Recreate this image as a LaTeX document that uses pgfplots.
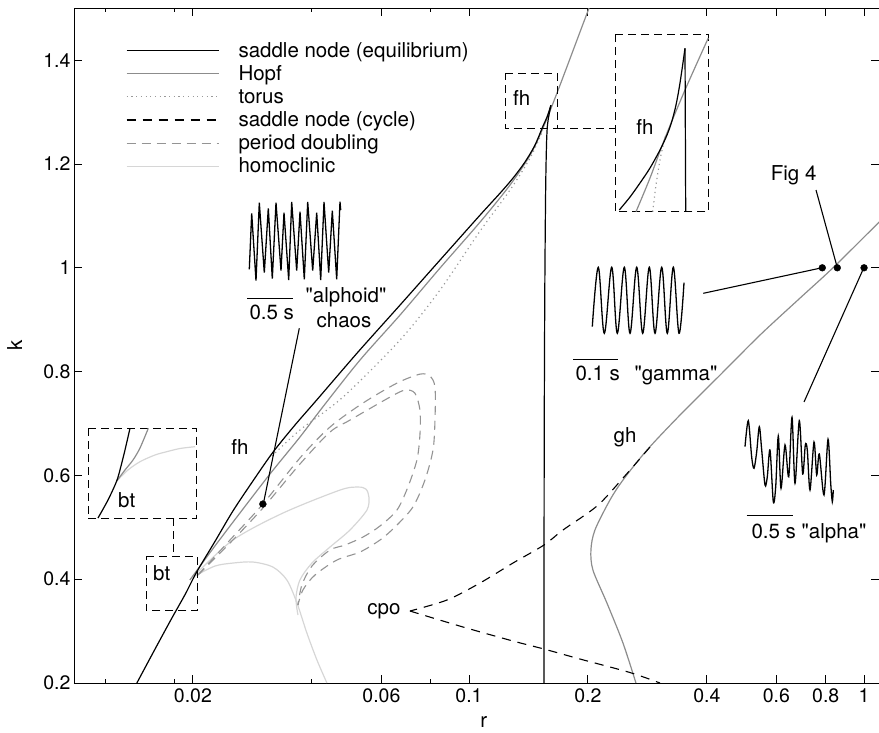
\documentclass[border=0pt]{standalone}
\usepackage{fontspec}
\setmainfont{TeX Gyre Heros}[Ligatures=TeXOff]
\usepackage{pgfplots}
\pgfplotsset{compat=1.18}
\newcommand\myfont{\fontsize{20.5bp}{24bp}\selectfont}
\newcommand\tickfont{\fontsize{19.5bp}{23bp}\selectfont}
\definecolor{hopf}{gray}{0.55}
\definecolor{pdc}{gray}{0.58}
\definecolor{tor}{gray}{0.6}
\definecolor{hom}{gray}{0.84}
\tikzset{
 sne/.style={black, line width=1.2bp},
 hpf/.style={hopf, line width=1.2bp},
 trs/.style={tor, line width=1.2bp, dash pattern=on 1.2bp off 3.5bp},
 snc/.style={black, line width=1.1bp, dash pattern=on 9bp off 7bp},
 pdl/.style={pdc, line width=1.1bp, dash pattern=on 9bp off 6bp},
 hml/.style={hom, line width=1.2bp},
 dbox/.style={black, line width=1bp, dash pattern=on 8bp off 5bp},
 wave/.style={black, line width=1.3bp},
}
\begin{document}
\begin{tikzpicture}[font=\myfont]
\path[use as bounding box] (-74bp,-50bp) rectangle (805bp,683bp);
\begin{axis}[
 at={(0,0)}, anchor=south west, scale only axis,
 width=805bp, height=674.7bp,
 xmode=log, xmin=0.01, xmax=1.091, ymin=0.2, ymax=1.5,
 xtick={0.02,0.06,0.1,0.2,0.4,0.6,0.8,1},
 xticklabels={0.02,0.06,0.1,0.2,0.4,0.6,0.8,1},
 minor xtick={0.012,0.018,0.04,0.08},
 ytick={0.2,0.4,0.6,0.8,1,1.2,1.4},
 yticklabels={0.2,0.4,0.6,0.8,1,1.2,1.4},
 major tick length=8bp, minor tick length=4bp,
 axis line style={line width=0.9bp},
 every tick/.style={black, line width=0.9bp},
 tick label style={font=\tickfont},
 xticklabel style={yshift=-2bp},
 xlabel={r}, ylabel={k},
 xlabel style={at={(axis description cs:0.509,-0.0578)}, anchor=center},
 ylabel style={at={(axis description cs:-0.0737,0.5)}, anchor=center},
]
% homoclinic
\addplot[hml, smooth] coordinates {(0.020234,0.408) (0.02525,0.4754) (0.033796,0.5274) (0.04713,0.5717) (0.052334,0.5775) (0.054832,0.5737) (0.0558,0.5582) (0.055156,0.5332) (0.04995,0.4947) (0.04446,0.4619) (0.040028,0.4311) (0.03732,0.3984) (0.036472,0.3637) (0.0369,0.331)};
\addplot[hml, smooth] coordinates {(0.020234,0.4061) (0.022736,0.4253) (0.02525,0.4311) (0.02837,0.4331) (0.031884,0.4234) (0.034592,0.3984) (0.036686,0.3541) (0.03887,0.2963) (0.04121,0.2443) (0.043684,0.2)};
% period doubling
\addplot[pdl, smooth] coordinates {(0.020592,0.408) (0.02482,0.4754) (0.030072,0.5448) (0.03732,0.6334) (0.04446,0.6931) (0.053882,0.7393) (0.065702,0.7778) (0.07512,0.7951) (0.07962,0.7913) (0.082006,0.7701) (0.082006,0.7065) (0.081054,0.6488) (0.077356,0.591) (0.072098,0.539) (0.064938,0.5005) (0.0595,0.4754) (0.05295,0.4523) (0.046298,0.4369) (0.040734,0.408) (0.037974,0.3791) (0.0369,0.3502)};
\addplot[pdl, smooth] coordinates {(0.020592,0.408) (0.02482,0.4696) (0.030072,0.5371) (0.03732,0.6218) (0.04446,0.6834) (0.04995,0.7065) (0.06307,0.7508) (0.068816,0.7643) (0.072946,0.7586) (0.07512,0.7258) (0.07512,0.6777) (0.0738,0.6295) (0.070032,0.5775) (0.065702,0.5332) (0.0595,0.5024) (0.053882,0.4812) (0.04851,0.4658) (0.04446,0.4562) (0.040028,0.4253) (0.037754,0.3888) (0.0369,0.3502)};
% torus
\addplot[trs, smooth] coordinates {(0.031698,0.6372) (0.03732,0.6873) (0.047948,0.7508) (0.06686,0.8606) (0.0844,0.9569) (0.1066,1.0706) (0.1269,1.1495) (0.1427,1.2112) (0.15386,1.2651)};
% Hopf
\addplot[hpf, smooth] coordinates {(0.019652,0.3984) (0.022736,0.4639) (0.0263,0.5274) (0.03133,0.6025) (0.03732,0.6738) (0.042428,0.7297) (0.05295,0.8221) (0.06686,0.9088) (0.0844,0.9993) (0.1066,1.0879) (0.1269,1.1592) (0.1427,1.2169) (0.15386,1.269) (0.16694,1.3364) (0.18756,1.4384) (0.2047,1.5155)};
\addplot[hpf, smooth] coordinates {(0.26458,0.2) (0.24532,0.277) (0.22342,0.3541) (0.20592,0.4176) (0.20352,0.4562) (0.20832,0.4947) (0.22738,0.5525) (0.24532,0.591) (0.28216,0.6488) (0.342,0.7162) (0.4318,0.7932) (0.5451,0.8703) (0.6882,0.9415) (0.8344,1.0) (1.091,1.0879) (1.163,1.1091)};
% saddle node (cycle)
\addplot[snc, smooth] coordinates {(0.28712,0.6545) (0.24532,0.5948) (0.21076,0.5409) (0.17288,0.4947) (0.15476,0.4658) (0.12918,0.4311) (0.1066,0.3926) (0.087922,0.3599) (0.07087,0.3387)};
\addplot[snc, smooth] coordinates {(0.07087,0.3387) (0.096536,0.3079) (0.12918,0.2809) (0.15476,0.2655) (0.1909,0.2462) (0.2555,0.2202) (0.3043,0.2)};
% saddle node (equilibrium)
\addplot[sne, smooth] coordinates {(0.014428,0.2) (0.015993,0.2636) (0.017668,0.3242) (0.01914,0.3714) (0.020436,0.4136) (0.022736,0.4725) (0.02525,0.5313) (0.02837,0.5891) (0.031884,0.6445) (0.036248,0.6969) (0.041138,0.7451) (0.052334,0.8375) (0.06686,0.9280) (0.0844,1.0147) (0.1066,1.1014) (0.1198,1.1437) (0.12918,1.1726) (0.13847,1.2034) (0.14685,1.2362) (0.15386,1.2728) (0.1575,1.2901) (0.16121,1.3133)};
\addplot[sne, smooth] coordinates {(0.16121,1.3133) (0.15934,1.294) (0.15796,1.2747) (0.15722,1.2458) (0.15658,1.1881) (0.15612,1.111) (0.1555,0.9377) (0.1550,0.6488) (0.15476,0.2)};
% marked parameter points
\addplot[only marks, mark=*, mark size=3.4bp, black] coordinates {(0.03007,0.5448) (0.784,1) (0.8556,1) (1.0,1)};
\end{axis}
% overlay in picture units (pixels of the reference)
\begin{axis}[
 at={(0,0)}, anchor=south west, scale only axis,
 width=805bp, height=674.7bp,
 xmin=74, xmax=879, ymin=8.3, ymax=683, y dir=reverse,
 hide axis, clip=false,
]
% legend
\addplot[sne] coordinates {(126.7,50.7) (219.3,50.7)};
\addplot[hpf] coordinates {(126.7,73.8) (219.3,73.8)};
\addplot[trs] coordinates {(126.7,96.9) (219.3,96.9)};
\addplot[snc] coordinates {(126.7,120) (219.3,120)};
\addplot[pdl] coordinates {(126.7,143.1) (219.3,143.1)};
\addplot[hml] coordinates {(126.7,166.2) (219.3,166.2)};
\node[anchor=base west] at (axis cs:235,57.3) {saddle node (equilibrium)};
\node[anchor=base west] at (axis cs:235,80.4) {Hopf};
\node[anchor=base west] at (axis cs:235,103.5) {torus};
\node[anchor=base west] at (axis cs:235,126.6) {saddle node (cycle)};
\node[anchor=base west] at (axis cs:235,149.7) {period doubling};
\node[anchor=base west] at (axis cs:235,172.8) {homoclinic};
% zoom boxes and connectors
\addplot[dbox] coordinates {(146,556.7) (197.7,556.7) (197.7,610.7) (146,610.7) (146,556.7)};
\addplot[dbox] coordinates {(88,428.3) (196.7,428.3) (196.7,518.3) (88,518.3) (88,428.3)};
\addplot[dbox] coordinates {(173.3,518.3) (173.3,556.7)};
\addplot[dbox] coordinates {(505,73.3) (557.3,73.3) (557.3,128.3) (505,128.3) (505,73.3)};
\addplot[dbox] coordinates {(615,35) (708.3,35) (708.3,211.7) (615,211.7) (615,35)};
\addplot[dbox] coordinates {(557.3,128.3) (615,128.3)};
% bt inset
\addplot[hml, smooth] coordinates {(116.7,481) (128,470) (140,461.7) (155,455) (166.7,451.7) (180,448.5) (195,446.7)};
\addplot[hpf, smooth] coordinates {(116.7,481) (125,470) (133,460) (140,448) (148.3,428.3)};
\addplot[sne, smooth] coordinates {(98,518) (108,500) (116.7,481) (121,466) (125,450) (130,428.3)};
% fh inset
\addplot[trs, smooth] coordinates {(652.7,211.7) (656,185) (660,160) (665,136.7)};
\addplot[hpf, smooth] coordinates {(636,211.7) (650,178) (665,138) (685,90) (708.3,38)};
\addplot[sne, smooth] coordinates {(619.3,210) (630,197) (640,183) (650,168) (660,150) (667,135) (671.7,121.7) (676,105) (680,83) (685,48.3)};
\addplot[sne] coordinates {(685,48.3) (685.7,211.7)};
% labels
\node at (axis cs:240,447) {fh};
\node at (axis cs:161.7,573.3) {bt};
\node at (axis cs:126.7,500) {bt};
\node at (axis cs:521.7,98.3) {fh};
\node at (axis cs:645,127.3) {fh};
\node at (axis cs:625,437) {gh};
\node[anchor=east] at (axis cs:404,611) {cpo};
\node[anchor=base east] at (axis cs:820,181) {Fig 4};
% alphoid chaos
\addplot[wave] coordinates {(249.3,269.3) (251.7,213.3) (256,280.7) (259.3,202.7) (264.3,272.7) (268.3,208.3) (272.3,278.7) (276,202.7) (281,270.7) (284,212.7) (288.7,280) (291.7,202) (296.7,270.7) (300,211.7) (304.3,279.3) (307.7,202) (312.7,270.7) (316.7,212.7) (320.7,280) (324,202) (328.7,272.7) (332.3,210.7) (336.7,279.3) (340,201.7) (340.7,210)};
\addplot[black, line width=1bp] coordinates {(247.3,298.3) (292.7,298.3)};
\node[anchor=base west] at (axis cs:246,319.5) {0.5 s};
\node at (axis cs:346,297) {"alphoid"};
\node at (axis cs:344,320) {chaos};
\addplot[black, line width=1.1bp] coordinates {(299.3,328.3) (263.3,504)};
% gamma
\addplot[wave, smooth, tension=0.6] coordinates {(592.3,326.7) (598.3,267.3) (604.3,333.3) (611.7,267.3) (617.3,333.3) (624.3,267.3) (630,333.3) (636.7,267.3) (642.7,333.3) (649.3,267.3) (655,333.3) (661.7,267.3) (667.3,333.3) (673.3,267.3) (679,333.3) (684,282.7)};
\addplot[black, line width=1bp] coordinates {(573.3,359) (618.3,359)};
\node[anchor=base west] at (axis cs:572,380) {0.1 s};
\node[anchor=base west] at (axis cs:631,380) {"gamma"};
\addplot[black, line width=1.1bp] coordinates {(703.3,293.3) (822.3,267.7)};
% Fig 4
\addplot[black, line width=1.1bp] coordinates {(816,190) (837.3,267.7)};
% alpha
\addplot[wave, smooth, tension=0.5] coordinates {(745,446.7) (748.3,420.7) (751.7,457.3) (754,468.3) (756.7,451.7) (759.3,426.7) (761.7,450) (765,485) (767.3,476.7) (770,450) (773.3,501.7) (775.7,486.7) (778.3,436) (781,488.3) (785,445) (788.7,476.7) (792,417.3) (795,483.3) (799.3,420.7) (802.7,474) (805.3,445) (807.3,450) (810,490) (814,442) (816.7,475) (819.3,454) (824,495) (828,439.3) (830.7,483.3) (832.3,501.7) (833.3,490)};
\addplot[black, line width=1bp] coordinates {(746.7,515.7) (792.7,515.7)};
\node[anchor=base west] at (axis cs:748,538) {0.5 s "alpha"};
\addplot[black, line width=1.1bp] coordinates {(804,402) (864,267.3)};
\end{axis}
\end{tikzpicture}
\end{document}
